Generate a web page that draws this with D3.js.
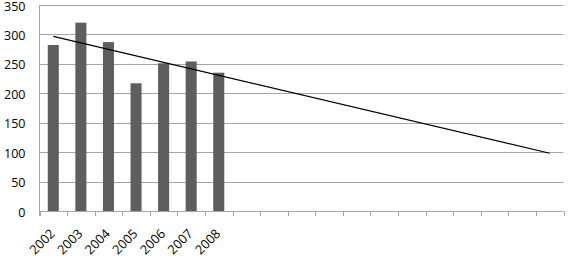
<!DOCTYPE html>
<html><head><meta charset="utf-8">
<script src="https://cdn.jsdelivr.net/npm/d3@7"></script>
<style>body{margin:0;background:#fff}svg{display:block}text{font-family:"Open Sans",sans-serif;fill:#000}</style>
</head><body>
<svg id="c" width="568" height="271"></svg>
<script>
const categories = ["2002","2003","2004","2005","2006","2007","2008"];
const emptyCategories = ["e1","e2","e3","e4","e5","e6","e7","e8","e9","e10","e11","e12"];
const values = [282, 320, 287, 217, 251, 254, 235];
const yTicks = [0, 50, 100, 150, 200, 250, 300, 350];

(function () {
const svg = d3.select("#c");
const mLeft = 39.5, mRight = 563.5, mTop = 5, mBottom = 211;
const allCats = categories.concat(emptyCategories);
const x = d3.scaleBand().domain(allCats).range([mLeft, mRight]).paddingInner(0.6).paddingOuter(0.3);
const y = d3.scaleLinear().domain([0, 350]).range([mBottom, mTop]);

// gridlines
svg.append("g").selectAll("line").data(yTicks.filter(d => d > 0)).join("line")
  .attr("x1", mLeft).attr("x2", mRight)
  .attr("y1", d => Math.round(y(d)) + 0.5).attr("y2", d => Math.round(y(d)) + 0.5)
  .attr("stroke", "#a6a6a6").attr("stroke-width", 1);

// y labels
svg.append("g").selectAll("text").data(yTicks).join("text")
  .attr("x", 25.5).attr("y", d => y(d) + 5.6)
  .attr("text-anchor", "end").attr("font-size", 12.5).text(d => d);

// bars
svg.append("g").selectAll("rect").data(values).join("rect")
  .attr("x", (d, i) => x(categories[i]))
  .attr("width", x.bandwidth())
  .attr("y", d => y(d)).attr("height", d => y(0) - y(d))
  .attr("fill", "#5e5e5e");

// axes lines
svg.append("line").attr("x1", mLeft).attr("x2", mLeft).attr("y1", mTop).attr("y2", mBottom + 5)
  .attr("stroke", "#a6a6a6");
svg.append("line").attr("x1", mLeft).attr("x2", mRight).attr("y1", Math.round(y(0)) + 0.5).attr("y2", Math.round(y(0)) + 0.5)
  .attr("stroke", "#a6a6a6");

// x ticks at category boundaries
const bounds = d3.range(allCats.length + 1).map(i => mLeft + i * (mRight - mLeft) / allCats.length);
svg.append("g").selectAll("line").data(bounds).join("line")
  .attr("x1", d => Math.round(d) + 0.5).attr("x2", d => Math.round(d) + 0.5)
  .attr("y1", mBottom).attr("y2", mBottom + 5)
  .attr("stroke", "#a6a6a6");

// x labels
const center = c => x(c) + x.bandwidth() / 2;
svg.append("g").selectAll("text").data(categories).join("text")
  .attr("transform", c => `translate(${center(c) + 2.5},${mBottom + 23.5}) rotate(-45)`)
  .attr("text-anchor", "end").attr("font-size", 12.8).text(c => c);

// linear trendline over all categories
const n = values.length;
const xs = d3.range(1, n + 1);
const mx = d3.mean(xs), my = d3.mean(values);
const slope = d3.sum(xs, (v, i) => (v - mx) * (values[i] - my)) / d3.sum(xs, v => (v - mx) ** 2);
const icpt = my - slope * mx;
const first = allCats[0], last = allCats[allCats.length - 1];
svg.append("line")
  .attr("x1", center(first)).attr("y1", y(icpt + slope * 1))
  .attr("x2", center(last)).attr("y2", y(icpt + slope * allCats.length))
  .attr("stroke", "#000").attr("stroke-width", 1.2);
})();
</script>
</body></html>
